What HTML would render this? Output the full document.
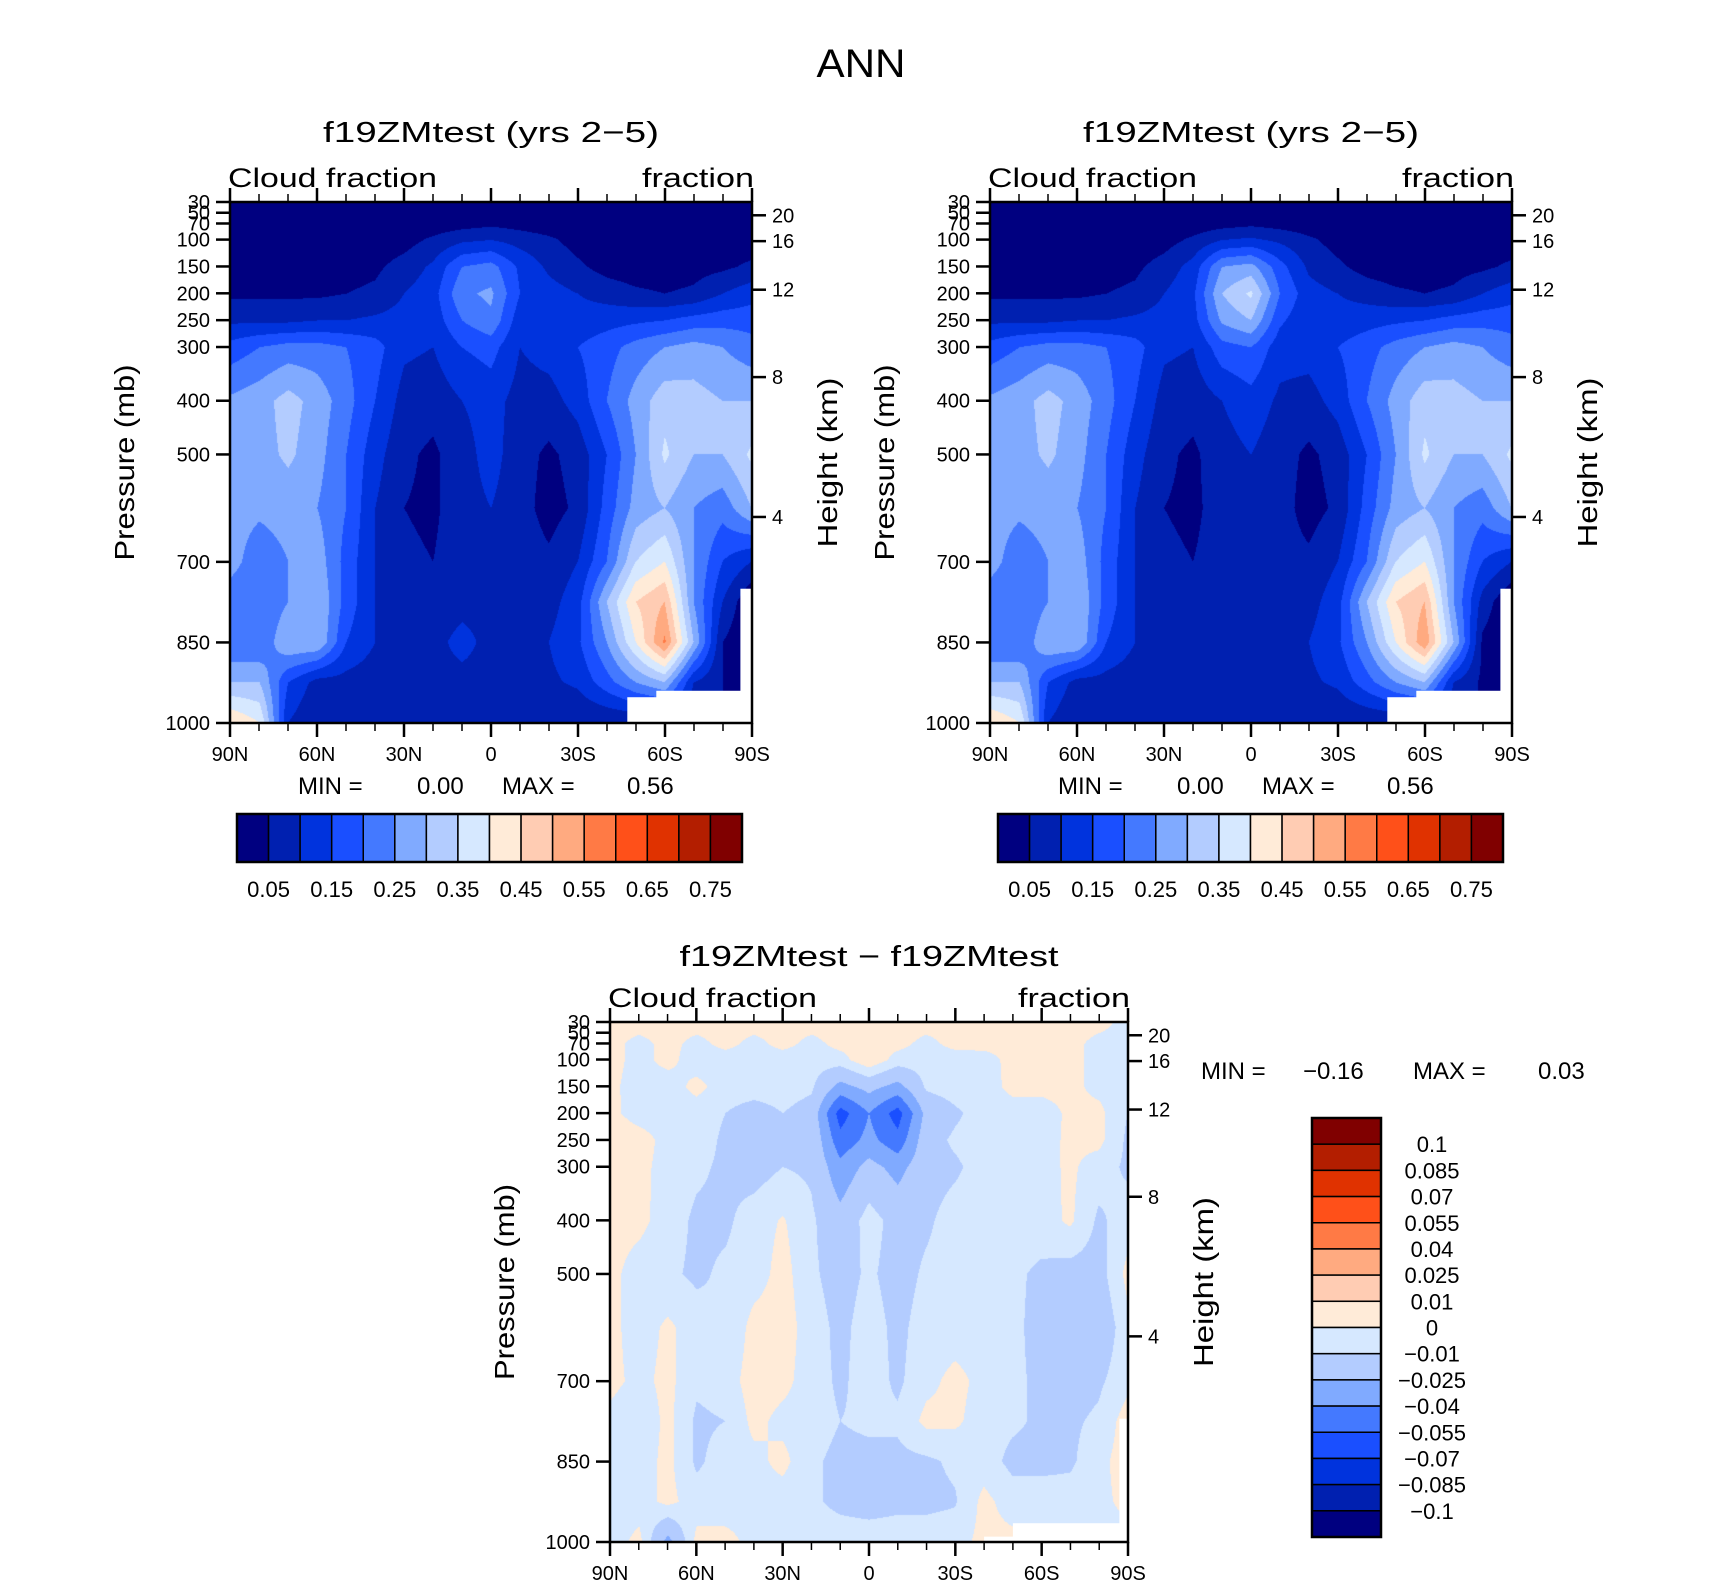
<!DOCTYPE html>
<html><head><meta charset="utf-8">
<style>
body{margin:0;background:#fff;}
#root{position:relative;width:1710px;height:1589px;overflow:hidden;font-family:"Liberation Sans",sans-serif;}
svg{position:absolute;left:0;top:0;}
canvas{position:absolute;}
</style></head>
<body>
<div id="root">
<canvas id="c1" style="left:230px;top:202px" width="522" height="521"></canvas>
<canvas id="c2" style="left:990px;top:202px" width="522" height="521"></canvas>
<canvas id="c3" style="left:610px;top:1022px" width="518" height="520"></canvas>
<svg id="s" width="1710" height="1589"></svg>
</div>
<script>
// ---- data ----
const lats = [90,80,70,60,50,40,30,20,10,0,-10,-20,-30,-40,-50,-60,-70,-80,-90];
const plevs = [30,70,100,150,200,250,300,400,500,600,700,775,850,925,1000];
const levels1 = [0.05,0.1,0.15,0.2,0.25,0.3,0.35,0.4,0.45,0.5,0.55,0.6,0.65,0.7,0.75];
const levels3 = [-0.1,-0.085,-0.07,-0.055,-0.04,-0.025,-0.01,0,0.01,0.025,0.04,0.055,0.07,0.085,0.1];
const barLabels1 = ["0.05","0.15","0.25","0.35","0.45","0.55","0.65","0.75"];
const barLabels3 = ["0.1","0.085","0.07","0.055","0.04","0.025","0.01","0","\u22120.01","\u22120.025","\u22120.04","\u22120.055","\u22120.07","\u22120.085","\u22120.1"];
const pTicks = [30,50,70,100,150,200,250,300,400,500,700,850,1000];
const hTicks = [20,16,12,8,4];
const latTicks = ["90N","60N","30N","0","30S","60S","90S"];
const palette = ["#000080","#0020b0","#0033dd","#1a4fff","#4479ff","#80aaff","#b3ccff","#d6e8ff","#ffebd8","#ffccb3","#ffaa80","#ff7a45","#ff5019","#e03200","#b31e00","#800000"];
const field1 = [
[0.02,0.02,0.02,0.02,0.02,0.02,0.02,0.02,0.02,0.03,0.02,0.02,0.02,0.02,0.02,0.02,0.02,0.02,0.02],
[0.02,0.02,0.02,0.02,0.02,0.02,0.02,0.02,0.03,0.04,0.03,0.02,0.02,0.02,0.02,0.02,0.02,0.02,0.02],
[0.02,0.02,0.02,0.02,0.02,0.02,0.03,0.06,0.09,0.1,0.08,0.06,0.03,0.02,0.02,0.02,0.02,0.02,0.02],
[0.02,0.02,0.02,0.02,0.03,0.04,0.07,0.11,0.2,0.22,0.14,0.09,0.06,0.03,0.02,0.02,0.03,0.04,0.06],
[0.04,0.04,0.04,0.04,0.05,0.06,0.1,0.13,0.24,0.26,0.15,0.12,0.1,0.08,0.06,0.05,0.06,0.1,0.13],
[0.09,0.09,0.09,0.1,0.1,0.11,0.12,0.12,0.2,0.24,0.12,0.11,0.12,0.13,0.14,0.15,0.17,0.18,0.18],
[0.17,0.2,0.22,0.22,0.2,0.17,0.11,0.1,0.15,0.17,0.1,0.12,0.15,0.18,0.22,0.25,0.27,0.25,0.22],
[0.26,0.28,0.32,0.28,0.22,0.15,0.08,0.07,0.1,0.12,0.08,0.08,0.12,0.2,0.27,0.33,0.32,0.3,0.3],
[0.27,0.28,0.31,0.27,0.2,0.12,0.06,0.04,0.08,0.12,0.07,0.04,0.07,0.15,0.25,0.36,0.3,0.3,0.36],
[0.27,0.26,0.27,0.25,0.2,0.1,0.05,0.04,0.08,0.1,0.07,0.03,0.06,0.17,0.27,0.3,0.25,0.22,0.3],
[0.27,0.22,0.25,0.28,0.18,0.1,0.06,0.05,0.08,0.09,0.08,0.06,0.1,0.2,0.35,0.4,0.25,0.15,0.1],
[0.22,0.2,0.25,0.3,0.18,0.1,0.07,0.08,0.09,0.09,0.08,0.08,0.13,0.3,0.45,0.5,0.25,0.1,0.0],
[0.2,0.2,0.3,0.3,0.15,0.1,0.07,0.09,0.11,0.09,0.09,0.1,0.14,0.25,0.4,0.56,0.3,0.05,0.0],
[0.3,0.3,0.15,0.08,0.08,0.07,0.08,0.09,0.09,0.09,0.09,0.09,0.11,0.18,0.25,0.3,0.1,0.05,0.0],
[0.45,0.4,0.1,0.05,0.05,0.05,0.05,0.05,0.05,0.05,0.05,0.05,0.05,0.05,0.05,0.05,0.05,0.05,0.0]];
const field2 = [
[0.02,0.02,0.02,0.02,0.02,0.02,0.02,0.02,0.02,0.03,0.02,0.02,0.02,0.02,0.02,0.02,0.02,0.02,0.02],
[0.02,0.02,0.02,0.02,0.02,0.02,0.02,0.02,0.03,0.04,0.03,0.02,0.02,0.02,0.02,0.02,0.02,0.02,0.02],
[0.02,0.02,0.02,0.02,0.02,0.02,0.03,0.06,0.1,0.11,0.09,0.06,0.03,0.02,0.02,0.02,0.02,0.02,0.02],
[0.02,0.02,0.02,0.02,0.03,0.04,0.07,0.12,0.25,0.27,0.17,0.09,0.06,0.03,0.02,0.02,0.03,0.04,0.06],
[0.04,0.04,0.04,0.04,0.05,0.06,0.1,0.14,0.3,0.36,0.2,0.12,0.1,0.08,0.06,0.05,0.06,0.1,0.13],
[0.09,0.09,0.09,0.1,0.1,0.11,0.12,0.13,0.26,0.3,0.16,0.11,0.12,0.13,0.14,0.15,0.17,0.18,0.18],
[0.17,0.2,0.22,0.22,0.2,0.17,0.11,0.1,0.18,0.2,0.12,0.12,0.15,0.18,0.22,0.25,0.27,0.25,0.22],
[0.26,0.28,0.32,0.28,0.22,0.15,0.08,0.07,0.1,0.13,0.09,0.08,0.12,0.2,0.27,0.33,0.32,0.3,0.3],
[0.27,0.28,0.31,0.27,0.2,0.12,0.06,0.04,0.08,0.1,0.07,0.04,0.07,0.15,0.25,0.36,0.3,0.3,0.36],
[0.27,0.26,0.27,0.25,0.2,0.1,0.05,0.04,0.07,0.09,0.07,0.03,0.06,0.17,0.27,0.3,0.25,0.22,0.3],
[0.27,0.22,0.25,0.28,0.18,0.1,0.06,0.05,0.07,0.08,0.07,0.06,0.1,0.2,0.35,0.4,0.25,0.15,0.1],
[0.22,0.2,0.25,0.3,0.18,0.1,0.07,0.08,0.08,0.1,0.08,0.08,0.13,0.3,0.45,0.5,0.25,0.08,0.0],
[0.2,0.2,0.3,0.3,0.15,0.1,0.07,0.08,0.1,0.08,0.08,0.1,0.14,0.25,0.4,0.54,0.3,0.04,0.0],
[0.3,0.3,0.15,0.08,0.08,0.07,0.08,0.09,0.09,0.09,0.09,0.09,0.11,0.18,0.25,0.3,0.1,0.04,0.0],
[0.45,0.4,0.1,0.05,0.05,0.05,0.05,0.05,0.05,0.05,0.05,0.05,0.05,0.05,0.05,0.05,0.05,0.05,0.0]];
const field3 = [
[0.004,0.004,0.004,0.004,0.004,0.004,0.004,0.004,0.004,0.004,0.004,0.004,0.004,0.004,0.004,0.004,0.004,0.003,-0.003],
[0.003,-0.003,0.003,-0.003,0.003,-0.003,0.003,-0.003,0.003,0.003,0.003,-0.003,0.003,0.003,0.003,0.003,0.003,-0.003,-0.003],
[0.003,-0.003,0.003,-0.005,-0.005,-0.005,-0.005,-0.005,-0.004,0.008,-0.004,-0.005,-0.005,-0.004,0.003,0.003,0.003,-0.003,-0.002],
[0.002,-0.004,-0.005,0.003,-0.005,-0.005,-0.005,-0.008,-0.03,-0.02,-0.03,-0.008,-0.005,-0.005,0.003,0.003,0.003,-0.003,-0.005],
[0.003,-0.005,-0.005,-0.005,-0.01,-0.015,-0.01,-0.015,-0.062,-0.04,-0.062,-0.02,-0.012,-0.005,-0.005,-0.005,0.002,0.003,-0.01],
[0.008,0.005,-0.004,-0.005,-0.012,-0.01,-0.015,-0.012,-0.05,-0.035,-0.05,-0.015,-0.008,-0.004,-0.004,-0.004,0.002,0.003,-0.012],
[0.007,0.003,-0.004,-0.008,-0.012,-0.015,-0.01,-0.012,-0.035,-0.02,-0.03,-0.015,-0.012,-0.005,-0.004,-0.004,0.002,-0.005,-0.012],
[0.004,0.003,-0.005,-0.012,-0.012,-0.005,0.001,-0.008,-0.02,-0.005,-0.015,-0.012,-0.005,-0.004,-0.004,-0.005,0.002,-0.012,-0.005],
[0.003,-0.005,-0.008,-0.012,-0.008,-0.005,0.004,-0.008,-0.015,-0.008,-0.015,-0.008,-0.005,-0.005,-0.008,-0.012,-0.015,-0.015,0.003],
[0.003,-0.005,0.002,-0.005,-0.01,0.004,0.005,-0.005,-0.013,-0.005,-0.013,-0.005,-0.005,-0.005,-0.008,-0.013,-0.013,-0.02,-0.003],
[0.003,-0.003,0.003,-0.008,-0.005,0.005,0.003,-0.005,-0.012,-0.005,-0.012,-0.003,0.003,-0.003,-0.008,-0.012,-0.015,-0.012,-0.003],
[-0.003,-0.008,0.003,-0.012,-0.01,0.003,-0.003,-0.005,-0.01,-0.008,-0.008,0.003,0.002,-0.005,-0.008,-0.012,-0.012,-0.008,0.005],
[-0.008,-0.005,0.003,-0.012,-0.005,-0.003,0.003,-0.008,-0.013,-0.013,-0.013,-0.012,-0.008,-0.005,-0.013,-0.013,-0.012,-0.003,0.005],
[-0.005,-0.005,0.003,-0.005,-0.005,-0.003,-0.005,-0.008,-0.013,-0.015,-0.013,-0.013,-0.011,0.003,-0.005,-0.005,-0.005,-0.003,0.003],
[-0.005,0.003,-0.03,0.003,0.003,-0.003,-0.004,-0.004,-0.004,-0.004,-0.004,-0.004,-0.004,0.003,0.003,-0.004,-0.004,-0.004,-0.004]];
// ---- helpers ----
const NS="http://www.w3.org/2000/svg";
const svg=document.getElementById('s');
function mk(tag,attrs,parent){const e=document.createElementNS(NS,tag);for(const k in attrs)e.setAttribute(k,attrs[k]);(parent||svg).appendChild(e);return e;}
function txt(x,y,s,size,anchor,name,extra){const t=mk('text',Object.assign({x:x,y:y,'font-size':size,'text-anchor':anchor||'middle','font-family':'Liberation Sans, sans-serif',fill:'#000'},extra||{}));t.textContent=s;


return t;}
function hToP(km){const h=km*1000;if(h<=11000)return 1013.25*Math.pow(1-2.25577e-5*h,5.25588);return 226.32*Math.exp(-(h-11000)/6341.6);}
function drawField(id,field,levels,W,H){
  const cv=document.getElementById(id),ctx=cv.getContext('2d');const img=ctx.createImageData(W,H);
  const rgb=palette.map(c=>[parseInt(c.substr(1,2),16),parseInt(c.substr(3,2),16),parseInt(c.substr(5,2),16)]);
  for(let py=0;py<H;py++){
    const p=30+970*py/(H-1);let j=0;while(j<plevs.length-2&&plevs[j+1]<p)j++;
    const fy=(p-plevs[j])/(plevs[j+1]-plevs[j]);
    for(let px=0;px<W;px++){
      const fi=18*px/(W-1);let i=Math.min(17,Math.floor(fi));const fx=fi-i;
      const v=(field[j][i]*(1-fx)+field[j][i+1]*fx)*(1-fy)+(field[j+1][i]*(1-fx)+field[j+1][i+1]*fx)*fy;
      let k=0;while(k<levels.length&&v>=levels[k])k++;
      const c=rgb[k],o=(py*W+px)*4;img.data[o]=c[0];img.data[o+1]=c[1];img.data[o+2]=c[2];img.data[o+3]=255;
    }
  }
  ctx.putImageData(img,0,0);
}
function panel(x0,y0,W,H,title,titleY,titleW,name,masks){
  const g=mk('g',{});
  
  
  const xOf=lat=>x0+(90-lat)/180*W, yOf=p=>y0+(p-30)/970*H;
  masks.forEach(m=>{const r=mk('rect',{x:xOf(m[0]),y:yOf(m[2]),width:xOf(m[1])-xOf(m[0]),height:yOf(1000)-yOf(m[2]),fill:'#fff'},g);
    
    });
  const b=mk('rect',{x:x0,y:y0,width:W,height:H,fill:'none',stroke:'#000','stroke-width':2.5},g);
  
  
  for(let lat=90;lat>=-90;lat-=10){const x=xOf(lat),maj=lat%30===0,len=maj?14:8;
    mk('line',{x1:x,x2:x,y1:y0+H,y2:y0+H+len,stroke:'#000','stroke-width':maj?2.5:1.5},g);
    mk('line',{x1:x,x2:x,y1:y0,y2:y0-len,stroke:'#000','stroke-width':maj?2.5:1.5},g);}
  latTicks.forEach((s,i)=>txt(x0+i*W/6,y0+H+38,s,20,'middle','x-tick-label'));
  pTicks.forEach(p=>{const y=yOf(p);mk('line',{x1:x0,x2:x0-14,y1:y,y2:y,stroke:'#000','stroke-width':2.5},g);
    txt(x0-20,y+7,String(p),20,'end','pressure-tick-label');});
  hTicks.forEach(h=>{const y=yOf(hToP(h));mk('line',{x1:x0+W,x2:x0+W+14,y1:y,y2:y,stroke:'#000','stroke-width':2.5},g);
    txt(x0+W+20,y+7,String(h),20,'start','height-tick-label');});
  txt(x0+W/2,titleY,title,29,'middle','panel-title',{textLength:titleW,lengthAdjust:'spacingAndGlyphs'});
  txt(x0-2,y0-15,'Cloud fraction',27,'start','left-subtitle',{textLength:209,lengthAdjust:'spacingAndGlyphs'});
  txt(x0+W+2,y0-15,'fraction',27,'end','right-subtitle',{textLength:112,lengthAdjust:'spacingAndGlyphs'});
  txt(0,0,'Pressure (mb)',28,'middle','y-axis-title',{transform:`translate(${x0-96},${y0+H/2}) rotate(-90)`,textLength:196,lengthAdjust:'spacingAndGlyphs'});
  txt(0,0,'Height (km)',28,'middle','y2-axis-title',{transform:`translate(${x0+W+85},${y0+H/2}) rotate(-90)`,textLength:170,lengthAdjust:'spacingAndGlyphs'});
}
function hbar(x0,y0,W,H){
  const bw=W/16;
  palette.forEach((c,i)=>{const r=mk('rect',{x:x0+i*bw,y:y0,width:bw,height:H,fill:c,stroke:'#000','stroke-width':1.5});
    
    });
  mk('rect',{x:x0,y:y0,width:W,height:H,fill:'none',stroke:'#000','stroke-width':2.5});
  barLabels1.forEach((s,i)=>txt(x0+(2*i+1)*bw,y0+H+35,s,22,'middle','colorbar-label'));
}
// ---- draw ----
drawField('c1',field1,levels1,522,521);
drawField('c2',field2,levels1,522,521);
drawField('c3',field3,levels3,518,520);
txt(861,77,'ANN',40,'middle','figure-title',{textLength:89,lengthAdjust:'spacingAndGlyphs'});
const masks=[[-47,-90,952],[-57,-90,940],[-86,-90,750]];
panel(230,202,522,521,'f19ZMtest (yrs 2\u22125)',142,336,'panel-1',masks);
panel(990,202,522,521,'f19ZMtest (yrs 2\u22125)',142,336,'panel-2',masks);
panel(610,1022,518,520,'f19ZMtest \u2212 f19ZMtest',966,379,'panel-diff',[[-40,-90,990],[-50,-90,965],[-87,-90,770]]);
txt(298,794,'MIN =',24,'start','min-label-1');
txt(417,794,'0.00',24,'start','min-value-1');
txt(502,794,'MAX =',24,'start','max-label-1');
txt(627,794,'0.56',24,'start','max-value-1');
txt(1058,794,'MIN =',24,'start','min-label-2');
txt(1177,794,'0.00',24,'start','min-value-2');
txt(1262,794,'MAX =',24,'start','max-label-2');
txt(1387,794,'0.56',24,'start','max-value-2');
txt(1201,1079,'MIN =',24,'start','min-label-3');
txt(1303,1079,'\u22120.16',24,'start','min-value-3');
txt(1413,1079,'MAX =',24,'start','max-label-3');
txt(1538,1079,'0.03',24,'start','max-value-3');
hbar(237,814,505,48);
hbar(998,814,505,48);
// vertical bar
(function(){const x0=1312,y0=1118,W=69,H=419,bh=H/16;
  palette.slice().reverse().forEach((c,i)=>{const r=mk('rect',{x:x0,y:y0+i*bh,width:W,height:bh,fill:c,stroke:'#000','stroke-width':1.5});
    
    });
  mk('rect',{x:x0,y:y0,width:W,height:H,fill:'none',stroke:'#000','stroke-width':2.5});
  barLabels3.forEach((s,i)=>txt(1432,y0+(i+1)*bh+8,s,22,'middle','diff-colorbar-label'));
})();
</script>
</body></html>
